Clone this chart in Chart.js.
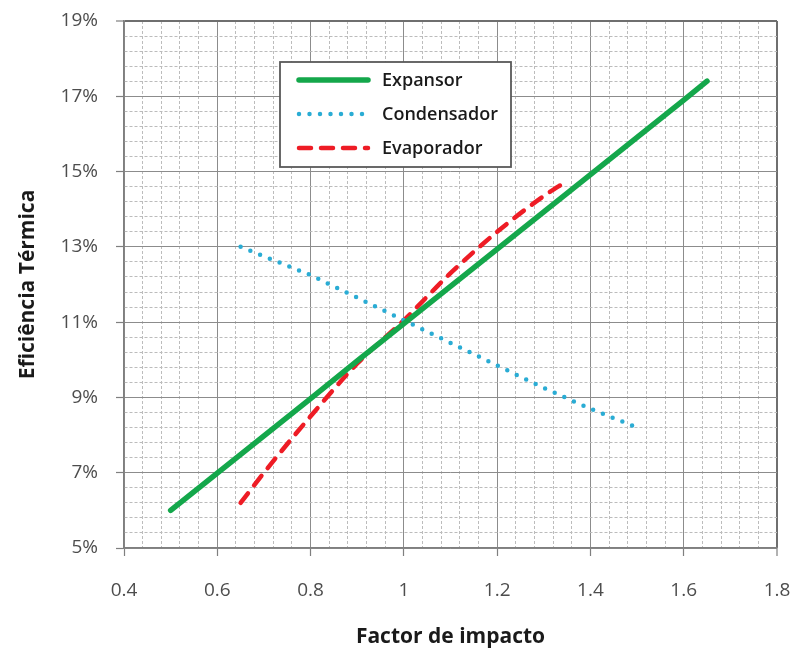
<!DOCTYPE html>
<html>
<head>
<meta charset="utf-8">
<script src="https://cdn.jsdelivr.net/npm/chart.js@4/dist/chart.umd.min.js"></script>
<style>
html,body{margin:0;padding:0;background:#ffffff;}
#wrap{width:798px;height:648px;position:relative;}
</style>
</head>
<body>
<div id="wrap"><canvas id="c" width="798" height="648"></canvas></div>
<script>
// ---- data ----
const seriesNames = ['Expansor', 'Condensador', 'Evaporador'];

const expansorX = [0.5, 0.6, 0.7, 0.8, 0.9, 1.0, 1.1, 1.2, 1.3, 1.4, 1.5, 1.6, 1.65];
const expansorY = [6.0, 6.99, 7.98, 8.97, 9.97, 10.96, 11.95, 12.94, 13.93, 14.92, 15.91, 16.9, 17.4];

const condensadorX = [0.65, 0.7, 0.8, 0.9, 1.0, 1.1, 1.2, 1.3, 1.4, 1.5];
const condensadorY = [13.0, 12.75, 12.25, 11.65, 11.05, 10.45, 9.85, 9.25, 8.7, 8.2];

const evaporadorX = [0.65, 0.7, 0.8, 0.9, 1.0, 1.1, 1.2, 1.3, 1.35];
const evaporadorY = [6.2, 7.0, 8.5, 9.9, 11.05, 12.3, 13.4, 14.35, 14.75];

const xTickLabels = ['0.4', '0.6', '0.8', '1', '1.2', '1.4', '1.6', '1.8'];
const yTickLabels = ['5%', '7%', '9%', '11%', '13%', '15%', '17%', '19%'];

const xTitle = 'Factor de impacto';
const yTitle = 'Eficiência Térmica';

// ---- build ----
const X_MIN = 0.4, X_MAX = 1.8, X_MINOR = 0.04;
const Y_MIN = 5, Y_MAX = 19, Y_MINOR = 0.4;
const MINOR_PER_MAJOR = 5;
const FONT = "'Open Sans', 'DejaVu Sans', sans-serif";

function pts(xs, ys) { return xs.map((x, i) => ({ x: x, y: ys[i] })); }

function minorTicks(min, max, step) {
  const n = Math.round((max - min) / step);
  const t = [];
  for (let i = 0; i <= n; i++) t.push({ value: +(min + i * step).toFixed(6) });
  return t;
}
const isMajor = (ctx) => ctx.tick !== undefined && ctx.index % MINOR_PER_MAJOR === 0;

function gridOpts(maxIndex) {
  return {
    color: (ctx) => (ctx.index === maxIndex) ? '#6f6f6f' : (isMajor(ctx) ? '#8c8c8c' : '#bcbcbc'),
    lineWidth: (ctx) => (ctx.index === maxIndex) ? 2 : 1,
    tickLength: 8,
    tickColor: (ctx) => isMajor(ctx) ? '#7f7f7f' : 'rgba(0,0,0,0)',
    tickWidth: 1.2
  };
}
const borderOpts = {
  display: true,
  color: '#7f7f7f',
  width: 1.5,
  dash: (ctx) => (ctx.tick !== undefined && ctx.index % MINOR_PER_MAJOR !== 0) ? [3, 2] : []
};

const legendBoxPlugin = {
  id: 'legendBox',
  afterDraw(chart) {
    const ctx = chart.ctx;
    const box = { x: 280, y: 62, w: 231, h: 105 };
    ctx.save();
    ctx.fillStyle = '#ffffff';
    ctx.fillRect(box.x, box.y, box.w, box.h);
    ctx.strokeStyle = '#595959';
    ctx.lineWidth = 1.8;
    ctx.setLineDash([]);
    ctx.strokeRect(box.x, box.y, box.w, box.h);
    const rowsY = [80, 114, 148];
    chart.data.datasets.forEach((ds, i) => {
      const y = rowsY[i];
      ctx.beginPath();
      ctx.setLineDash(ds.borderDash || []);
      ctx.lineCap = ds.borderCapStyle || 'butt';
      ctx.strokeStyle = ds.borderColor;
      ctx.lineWidth = ds.borderWidth;
      ctx.moveTo(299, y);
      ctx.lineTo(368, y);
      ctx.stroke();
      ctx.setLineDash([]);
      ctx.fillStyle = '#1a1a1a';
      ctx.font = "600 18px " + FONT;
      ctx.textBaseline = 'middle';
      ctx.textAlign = 'left';
      ctx.fillText(ds.label, 382, y + 1);
    });
    ctx.restore();
  }
};

new Chart(document.getElementById('c'), {
  type: 'line',
  data: {
    datasets: [
      {
        label: seriesNames[0],
        data: pts(expansorX, expansorY),
        borderColor: '#14a74b',
        borderWidth: 5.5,
        borderCapStyle: 'round',
        pointRadius: 0,
        tension: 0,
        fill: false
      },
      {
        label: seriesNames[1],
        data: pts(condensadorX, condensadorY),
        borderColor: '#2aacd4',
        borderWidth: 4.5,
        borderDash: [0, 10.5],
        borderCapStyle: 'round',
        pointRadius: 0,
        tension: 0,
        fill: false
      },
      {
        label: seriesNames[2],
        data: pts(evaporadorX, evaporadorY),
        borderColor: '#ee1c25',
        borderWidth: 4.5,
        borderDash: [12, 10],
        borderCapStyle: 'round',
        pointRadius: 0,
        cubicInterpolationMode: 'monotone',
        fill: false
      }
    ]
  },
  options: {
    responsive: false,
    animation: false,
    devicePixelRatio: 1,
    layout: { padding: { top: 21, right: 21, left: 0, bottom: 0 } },
    plugins: { legend: { display: false }, tooltip: { enabled: false } },
    scales: {
      x: {
        type: 'linear',
        min: X_MIN,
        max: X_MAX,
        afterBuildTicks: (s) => { s.ticks = minorTicks(X_MIN, X_MAX, X_MINOR); },
        afterFit: (s) => { s.height = 100; s.paddingLeft = 0; s.paddingRight = 0; },
        ticks: {
          autoSkip: false,
          maxRotation: 0,
          padding: 23,
          color: '#4d4d4d',
          font: { family: FONT, size: 19 },
          callback: (v, i) => (i % MINOR_PER_MAJOR === 0) ? xTickLabels[i / MINOR_PER_MAJOR] : ''
        },
        grid: gridOpts(Math.round((X_MAX - X_MIN) / X_MINOR)),
        border: borderOpts,
        title: {
          display: true,
          text: xTitle,
          color: '#1a1a1a',
          font: { family: FONT, size: 21, weight: 'bold' },
          padding: { top: 0, bottom: -2 }
        }
      },
      y: {
        type: 'linear',
        min: Y_MIN,
        max: Y_MAX,
        afterBuildTicks: (s) => { s.ticks = minorTicks(Y_MIN, Y_MAX, Y_MINOR); },
        afterFit: (s) => { s.width = 124; s.paddingTop = 0; s.paddingBottom = 0; },
        ticks: {
          autoSkip: false,
          padding: 18,
          color: '#4d4d4d',
          font: { family: FONT, size: 19 },
          callback: (v, i) => (i % MINOR_PER_MAJOR === 0) ? yTickLabels[i / MINOR_PER_MAJOR] : ''
        },
        grid: gridOpts(Math.round((Y_MAX - Y_MIN) / Y_MINOR)),
        border: borderOpts,
        title: {
          display: true,
          text: yTitle,
          color: '#1a1a1a',
          font: { family: FONT, size: 21, weight: 'bold' },
          padding: { top: 15, bottom: 0 }
        }
      }
    }
  },
  plugins: [legendBoxPlugin]
});
</script>
</body>
</html>
